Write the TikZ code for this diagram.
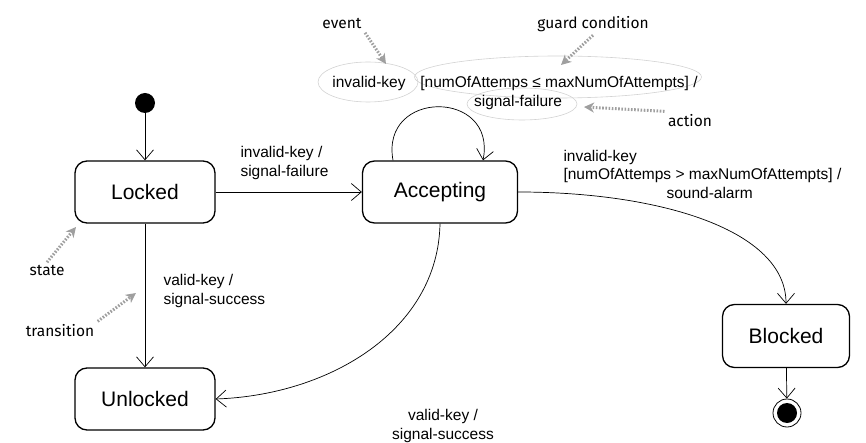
\documentclass[tikz,border=0pt]{standalone}
\usepackage{fontspec}
\setmainfont{Liberation Sans}
\newfontfamily\notefont{Fira Sans}
\usetikzlibrary{arrows.meta,shapes.geometric}

\begin{document}
\begin{tikzpicture}[x=1pt, y=-1pt,
    state/.style={draw, line width=1.3pt, rounded corners=12pt, minimum width=140pt, minimum height=62pt, font=\fontsize{21}{24}\selectfont},
    trans/.style={-{Straight Barb[length=10pt, width=17pt]}, line width=0.7pt},
    lbl/.style={font=\fontsize{15.5}{18.5}\selectfont},
    note/.style={font=\notefont\fontsize{15.5}{18}\selectfont},
    hint/.style={draw=gray!75, line width=3pt, dash pattern=on 1.6pt off 1.6pt, -{Stealth[length=10pt, width=10pt, inset=3pt]}},
    part/.style={draw=gray!35, ellipse, line width=0.6pt, inner sep=0pt}]
    \useasboundingbox (0, 0) rectangle (866, 443);

    % states
    \node[circle, fill, inner sep=0pt, minimum size=20pt] (init) at (145, 103) {};
    \node[state] (locked) at (145, 192) {Locked};
    \node[state] (unlocked) at (145, 399) {Unlocked};
    \node[state, minimum width=155pt] (accepting) at (440, 192) {Accepting};
    \node[state, minimum width=127pt, minimum height=63pt] (blocked) at (786, 336) {Blocked};
    \node[circle, draw, line width=0.8pt, inner sep=0pt, minimum size=28pt] (final) at (787, 413) {};
    \node[circle, fill, inner sep=0pt, minimum size=20pt] (finaldot) at (final) {};

    % transitions
    \draw[trans] (init) -- (locked);
    \draw[trans] (locked) -- (accepting);
    \draw[trans] (locked) -- (unlocked);
    \draw[trans] ([xshift=-47pt]accepting.north) .. controls (380, 89) and (497, 89) .. ([xshift=43pt]accepting.north);
    \draw[trans] (accepting.south) .. controls (438, 330) and (330, 395) .. (unlocked.east);
    \draw[trans] (accepting.east) .. controls (660, 192) and (786, 230) .. (blocked.north);
    \draw[trans] (blocked) -- (final);

    \node[lbl, align=left, anchor=west] (lockfail) at (237, 163) {invalid-key /\\signal-failure};
    \node[lbl, align=left, anchor=west] (locksucc) at (160, 291) {valid-key /\\signal-success};
    \node[lbl, align=center] (accsucc) at (443, 426) {valid-key /\\signal-success};
    \node[lbl, align=left, anchor=west] (alarm) at (560, 174) {invalid-key\\{}[numOfAttemps > maxNumOfAttempts] /\\\hspace*{103pt}sound-alarm};

    % parts of a transition
    \node[part, minimum width=100pt, minimum height=40pt] (evt) at (368, 82) {};
    \node[part, minimum width=287pt, minimum height=42pt] (grd) at (558, 77) {};
    \node[part, minimum width=110pt, minimum height=32pt] (act) at (522, 104) {};
    \node[lbl] (evttext) at (369, 83) {invalid-key};
    \node[lbl] (grdtext) at (559, 83) {[numOfAttemps ≤ maxNumOfAttempts] /};
    \node[lbl] (acttext) at (518, 102) {signal-failure};

    % notes
    \node[note] (event) at (342, 24) {event};
    \node[note] (guard) at (593, 24) {guard condition};
    \node[note] (action) at (690, 121) {action};
    \node[note] (state) at (47, 271) {state};
    \node[note] (transition) at (60, 331) {transition};
    \coordinate (eventtip) at (386, 64);
    \coordinate (guardtip) at (561, 65);
    \coordinate (actiontip) at (584, 107);
    \coordinate (statetip) at (76, 227);
    \coordinate (transtip) at (136, 293);
    \draw[hint] (event.south east) -- (eventtip);
    \draw[hint] (guard.south) -- (guardtip);
    \draw[hint] (action.north west) -- (actiontip);
    \draw[hint] (state.north) -- (statetip);
    \draw[hint] (transition.north east) -- (transtip);
\end{tikzpicture}
\end{document}
